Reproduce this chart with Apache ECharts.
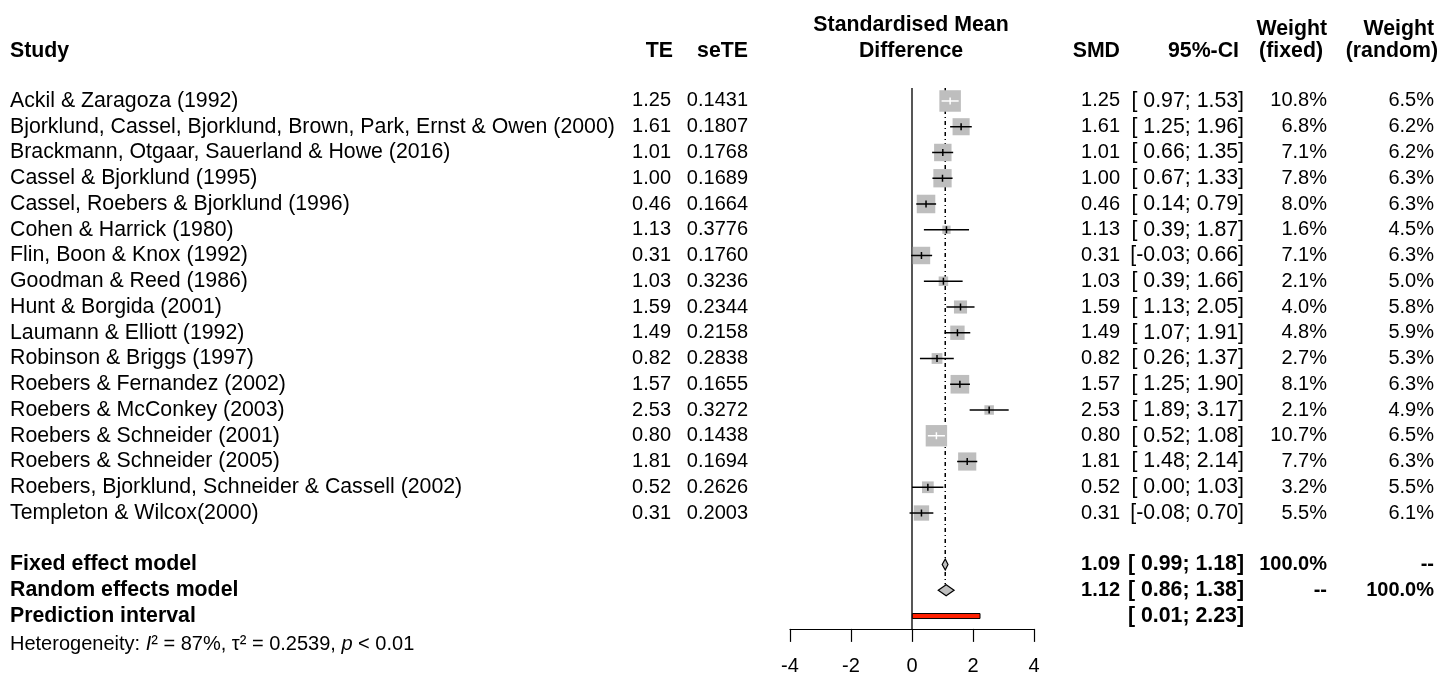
<!DOCTYPE html>
<html>
<head>
<meta charset="utf-8">
<title>Forest plot</title>
<script src="https://cdn.jsdelivr.net/npm/echarts@6/dist/echarts.min.js"></script>
<style>
    html, body { margin: 0; padding: 0; background: #fff; }
    #chart { width: 1440px; height: 675px; }
</style>
</head>
<body>
<div id="chart"></div>
<script>
// study data
const studies = [
    'Ackil & Zaragoza (1992)',
    'Bjorklund, Cassel, Bjorklund, Brown, Park, Ernst & Owen (2000)',
    'Brackmann, Otgaar, Sauerland & Howe (2016)',
    'Cassel & Bjorklund (1995)',
    'Cassel, Roebers & Bjorklund (1996)',
    'Cohen & Harrick (1980)',
    'Flin, Boon & Knox (1992)',
    'Goodman & Reed (1986)',
    'Hunt & Borgida (2001)',
    'Laumann & Elliott (1992)',
    'Robinson & Briggs (1997)',
    'Roebers & Fernandez (2002)',
    'Roebers & McConkey (2003)',
    'Roebers & Schneider (2001)',
    'Roebers & Schneider (2005)',
    'Roebers, Bjorklund, Schneider & Cassell (2002)',
    'Templeton & Wilcox(2000)'
]
const te = [1.25, 1.61, 1.01, 1.00, 0.46, 1.13, 0.31, 1.03, 1.59, 1.49, 0.82, 1.57, 2.53, 0.80, 1.81, 0.52, 0.31]
const seTE = [0.1431, 0.1807, 0.1768, 0.1689, 0.1664, 0.3776, 0.1760, 0.3236, 0.2344, 0.2158, 0.2838, 0.1655, 0.3272, 0.1438, 0.1694, 0.2626, 0.2003]
const ciLow = [0.97, 1.25, 0.66, 0.67, 0.14, 0.39, -0.03, 0.39, 1.13, 1.07, 0.26, 1.25, 1.89, 0.52, 1.48, 0.00, -0.08]
const ciHigh = [1.53, 1.96, 1.35, 1.33, 0.79, 1.87, 0.66, 1.66, 2.05, 1.91, 1.37, 1.90, 3.17, 1.08, 2.14, 1.03, 0.70]
const wFixed = [10.8, 6.8, 7.1, 7.8, 8.0, 1.6, 7.1, 2.1, 4.0, 4.8, 2.7, 8.1, 2.1, 10.7, 7.7, 3.2, 5.5]
const wRandom = [6.5, 6.2, 6.2, 6.3, 6.3, 4.5, 6.3, 5.0, 5.8, 5.9, 5.3, 6.3, 4.9, 6.5, 6.3, 5.5, 6.1]

// pooled estimates: fixed, random, prediction interval
const summaryLabels = ['Fixed effect model', 'Random effects model', 'Prediction interval']
const summaryEst = [1.09, 1.12, null]
const summaryLow = [0.99, 0.86, 0.01]
const summaryHigh = [1.18, 1.38, 2.23]
const summaryWFixed = ['100.0%', '--', '']
const summaryWRandom = ['--', '100.0%', '']
const hetText = 'Heterogeneity: {it|I}² = 87%, τ² = 0.2539, {it|p} < 0.01'

// axis ticks
const xTicks = [-4, -2, 0, 2, 4]

const FONT = '"Liberation Sans", Arial, Helvetica, sans-serif'
const FS = 20        // numbers
const FS_LABEL = 21.3  // study names, headers
const BOX_SCALE = 6.55   // box side (px) per sqrt(weight)
const SUMMARY_ROW = studies.length + 1

// text columns: x position, alignment, font size
const cols = [
    { x: 10, align: 'left', fs: FS_LABEL },  // study
    { x: 671, align: 'right', fs: FS },      // TE
    { x: 748, align: 'right', fs: FS },      // seTE
    { x: 1120, align: 'right', fs: FS },     // SMD
    { x: 1244, align: 'right', fs: 21.3 },   // 95%-CI
    { x: 1327, align: 'right', fs: FS },     // weight fixed
    { x: 1434, align: 'right', fs: FS }      // weight random
]

function fmtNum(v) {
    return (v < 0 ? '' : ' ') + v.toFixed(2)
}
function fmtCI(lo, hi) {
    return '[' + fmtNum(lo) + ';' + fmtNum(hi) + ']'
}

// header cells (free positioned)
const headerCells = [
    { row: -2.95, x: 911, align: 'center', text: 'Standardised Mean' },
    { row: -1.95, x: 911, align: 'center', text: 'Difference' },
    { row: -1.95, x: 10, align: 'left', text: 'Study' },
    { row: -1.95, x: 673, align: 'right', text: 'TE' },
    { row: -1.95, x: 748, align: 'right', text: 'seTE' },
    { row: -1.95, x: 1120, align: 'right', text: 'SMD' },
    { row: -1.95, x: 1239, align: 'right', text: '95%-CI' },
    { row: -2.8, x: 1327, align: 'right', text: 'Weight' },
    { row: -1.95, x: 1323, align: 'right', text: '(fixed)' },
    { row: -2.8, x: 1434, align: 'right', text: 'Weight' },
    { row: -1.95, x: 1438, align: 'right', text: '(random)' }
]

// table rows
const tableRows = studies.map((s, i) => ({
    row: i,
    bold: false,
    cells: [s, te[i].toFixed(2), seTE[i].toFixed(4), te[i].toFixed(2), fmtCI(ciLow[i], ciHigh[i]),
        wFixed[i].toFixed(1) + '%', wRandom[i].toFixed(1) + '%']
}))
summaryLabels.forEach((s, k) => {
    tableRows.push({
        row: SUMMARY_ROW + k,
        bold: true,
        cells: [s, '', '', summaryEst[k] == null ? '' : summaryEst[k].toFixed(2),
            fmtCI(summaryLow[k], summaryHigh[k]), summaryWFixed[k], summaryWRandom[k]]
    })
})

const chart = echarts.init(document.getElementById('chart'))

const option = {
    animation: false,
    backgroundColor: '#fff',
    grid: {
        left: 790,
        right: 406,
        top: 88.1,
        bottom: 46.1,
        outerBoundsMode: 'none'
    },
    xAxis: {
        type: 'value',
        min: xTicks[0],
        max: xTicks[xTicks.length - 1],
        interval: 2,
        axisLine: { show: true, onZero: false, lineStyle: { color: '#000', width: 1.2 } },
        axisTick: { show: true, length: 13, lineStyle: { color: '#000', width: 1.2 } },
        axisLabel: { color: '#000', fontSize: FS, fontFamily: FONT, margin: 28 },
        splitLine: { show: false }
    },
    yAxis: {
        type: 'value',
        min: -0.5,
        max: SUMMARY_ROW + 2.5,
        inverse: true,
        show: false
    },
    series: [
        {
            // reference lines: no effect and fixed-effect estimate
            type: 'custom',
            z: 1,
            clip: false,
            data: [[0, -0.5, SUMMARY_ROW + 2.5, 0], [summaryEst[0], -0.5, SUMMARY_ROW + 0.78, 1]],
            renderItem(params, api) {
                const p1 = api.coord([api.value(0), api.value(1)])
                const p2 = api.coord([api.value(0), api.value(2)])
                const dashed = api.value(3) === 1
                return {
                    type: 'line',
                    shape: { x1: p1[0], y1: p1[1], x2: p2[0], y2: p2[1] },
                    style: dashed
                        ? { stroke: '#000', lineWidth: 1.5, lineDash: [4, 3, 1, 3] }
                        : { stroke: '#444', lineWidth: 1.8 }
                }
            }
        },
        {
            // study boxes and CIs
            type: 'custom',
            z: 2,
            clip: false,
            data: studies.map((s, i) => [te[i], i, ciLow[i], ciHigh[i], wFixed[i]]),
            renderItem(params, api) {
                const c = api.coord([api.value(0), api.value(1)])
                const xl = api.coord([api.value(2), 0])[0]
                const xh = api.coord([api.value(3), 0])[0]
                const side = BOX_SCALE * Math.sqrt(api.value(4))
                const inside = xl >= c[0] - side / 2 && xh <= c[0] + side / 2
                const col = inside ? '#fff' : '#000'
                return {
                    type: 'group',
                    children: [
                        { type: 'rect', shape: { x: c[0] - side / 2, y: c[1] - side / 2, width: side, height: side }, style: { fill: '#bebebe' } },
                        { type: 'line', shape: { x1: xl, y1: c[1], x2: xh, y2: c[1] }, style: { stroke: col, lineWidth: 1.5 } },
                        { type: 'line', shape: { x1: c[0], y1: c[1] - 3.5, x2: c[0], y2: c[1] + 3.5 }, style: { stroke: col, lineWidth: 1.5 } }
                    ]
                }
            }
        },
        {
            // pooled diamonds
            type: 'custom',
            z: 3,
            clip: false,
            data: [0, 1].map(k => [summaryEst[k], SUMMARY_ROW + k, summaryLow[k], summaryHigh[k]]),
            renderItem(params, api) {
                const c = api.coord([api.value(0), api.value(1)])
                const xl = api.coord([api.value(2), 0])[0]
                const xh = api.coord([api.value(3), 0])[0]
                const h = 5.5
                return {
                    type: 'polygon',
                    shape: { points: [[xl, c[1]], [c[0], c[1] - h], [xh, c[1]], [c[0], c[1] + h]] },
                    style: { fill: '#bebebe', stroke: '#000', lineWidth: 1.2 }
                }
            }
        },
        {
            // prediction interval
            type: 'custom',
            z: 3,
            clip: false,
            data: [[SUMMARY_ROW + 2, summaryLow[2], summaryHigh[2]]],
            renderItem(params, api) {
                const p1 = api.coord([api.value(1), api.value(0)])
                const xh = api.coord([api.value(2), 0])[0]
                return {
                    type: 'rect',
                    shape: { x: p1[0], y: p1[1] - 2.5, width: xh - p1[0], height: 5 },
                    style: { fill: '#ff2000', stroke: '#000', lineWidth: 1 }
                }
            }
        },
        {
            // table text
            type: 'custom',
            z: 4,
            clip: false,
            data: tableRows.map(r => [0, r.row]),
            renderItem(params, api) {
                const r = tableRows[params.dataIndex]
                const y = api.coord([0, api.value(1)])[1]
                return {
                    type: 'group',
                    children: r.cells.map((t, j) => ({
                        type: 'text',
                        x: cols[j].x,
                        y: y,
                        style: {
                            text: t,
                            font: (r.bold ? 'bold ' : '') + cols[j].fs + 'px ' + FONT,
                            fill: '#000',
                            align: cols[j].align,
                            verticalAlign: 'middle'
                        }
                    }))
                }
            }
        },
        {
            // header + heterogeneity
            type: 'custom',
            z: 4,
            clip: false,
            data: headerCells.map(h => [0, h.row]).concat([[0, SUMMARY_ROW + 3.1]]),
            renderItem(params, api) {
                const y = api.coord([0, api.value(1)])[1]
                const h = headerCells[params.dataIndex]
                if (h) {
                    return {
                        type: 'text',
                        x: h.x,
                        y: y,
                        style: { text: h.text, font: 'bold ' + FS_LABEL + 'px ' + FONT, fill: '#000', align: h.align, verticalAlign: 'middle' }
                    }
                }
                return {
                    type: 'text',
                    x: 10,
                    y: y,
                    style: {
                        text: hetText,
                        font: '20px ' + FONT,
                        fill: '#000',
                        align: 'left',
                        verticalAlign: 'middle',
                        rich: {
                            it: { fontStyle: 'italic', fontSize: 20, fontFamily: FONT }
                        }
                    }
                }
            }
        }
    ]
}

chart.setOption(option)
</script>
</body>
</html>
